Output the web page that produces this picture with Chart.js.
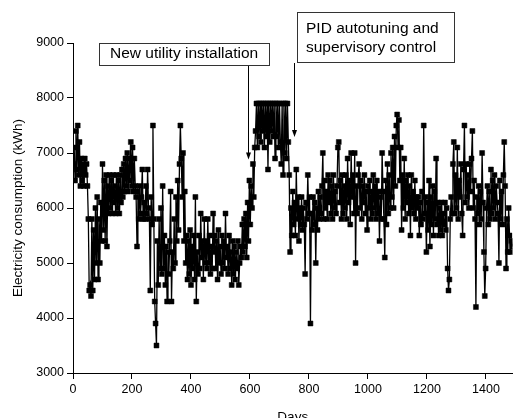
<!DOCTYPE html>
<html>
<head>
<meta charset="utf-8">
<script src="https://cdn.jsdelivr.net/npm/chart.js@4/dist/chart.umd.min.js"></script>
<style>
  html, body { margin: 0; padding: 0; background: #fff; }
  #wrap { width: 517px; height: 418px; }
</style>
</head>
<body>
<div id="wrap"><canvas id="usageChart" width="517" height="418"></canvas></div>
<script>
// electricity use, one value every 3 days (10 values = 30 days per row)
const startDay = 1;
const dayStep = 3;
const consumption = [
    6800, 7100, 6500, 7400, 6700, 7500, 6600, 7200, 6400, 6900,
    6500, 6800, 6400, 6900, 6600, 6800, 6400, 5800, 4500, 4600,
    4400, 5800, 4500, 5600, 4700, 6000, 5000, 6200, 4700, 5800,
    5000, 6100, 5400, 6800, 5600, 6500, 5400, 6600, 5300, 6400,
    5900, 6600, 6000, 6500, 5900, 6600, 6100, 6400, 5900, 6600,
    6000, 6500, 5900, 6600, 6100, 6700, 6200, 6800, 6300, 6900,
    6400, 7000, 6300, 6900, 6500, 7200, 6400, 7100, 6300, 6900,
    6400, 6200, 5300, 6300, 5800, 6400, 5900, 6200, 6700, 5800,
    6100, 5800, 6400, 5900, 6700, 6000, 5800, 4500, 6200, 5700,
    7500, 5800, 4300, 3900, 3500, 5400, 4600, 5800, 4900, 6000,
    4800, 6400, 4900, 5500, 4600, 5300, 4300, 5200, 4800, 5400,
    6300, 4300, 5200, 4900, 5800, 5000, 6200, 5400, 6500, 5600,
    6800, 7500, 6900, 6200, 7000, 5400, 6300, 5000, 5500, 4700,
    5400, 4800, 5600, 4600, 5300, 4900, 5500, 4700, 6200, 4300,
    5200, 4800, 5500, 4900, 5900, 5100, 5400, 4700, 5800, 5000,
    5400, 4900, 5800, 5000, 5500, 4800, 5300, 4900, 5900, 5200,
    5500, 4900, 5400, 4700, 5600, 5000, 5300, 4800, 5500, 5000,
    5400, 4900, 5900, 5100, 5300, 4800, 5500, 4900, 5200, 4600,
    5400, 4800, 5300, 4700, 5200, 4900, 5400, 4600, 5000, 5300,
    5100, 5700, 5200, 5800, 5300, 5900, 5100, 6100, 5400, 6500,
    5700, 6400, 6000, 6800, 6200, 7100, 7400, 7900, 7100, 7900,
    7300, 7900, 7200, 7900, 7400, 7900, 7100, 7900, 7300, 7900,
    6700, 7900, 7200, 7900, 7400, 7900, 7300, 7900, 6900, 7900,
    7300, 7900, 7100, 7900, 7200, 6800, 7900, 6600, 7900, 7000,
    7900, 6900, 7900, 7200, 6600, 5200, 6000, 5500, 6300, 5700,
    6100, 5500, 6700, 5800, 6200, 5400, 6000, 5700, 6200, 5600,
    6000, 5700, 4800, 6100, 5800, 6600, 5900, 6200, 3900, 5900,
    5600, 6200, 5700, 6100, 5000, 6000, 5600, 6300, 5800, 6200,
    5900, 6400, 7000, 5800, 6500, 6000, 6300, 5800, 6600, 6100,
    6500, 5900, 6400, 5800, 6600, 6000, 6300, 5900, 6400, 7100,
    7200, 6100, 6500, 5800, 6600, 5900, 6400, 6000, 6600, 5800,
    6900, 6100, 6500, 5700, 7000, 6200, 6600, 5900, 7000, 5000,
    6400, 5900, 6600, 6800, 6000, 6500, 5800, 6400, 6100, 6600,
    5900, 6300, 5600, 6400, 6000, 6500, 5800, 6300, 5900, 6600,
    6000, 6400, 5800, 6500, 5900, 6300, 5400, 6200, 5800, 7000,
    6300, 5800, 5100, 6500, 5700, 6800, 5900, 6600, 6000, 7000,
    6200, 7100, 6000, 7300, 6400, 7500, 7700, 7100, 7600, 6500,
    7100, 5600, 6600, 6000, 6900, 5800, 6500, 6100, 6600, 5900,
    6400, 5500, 6600, 6000, 6300, 5900, 6500, 5800, 6200, 6000,
    6200, 5500, 6100, 5700, 6300, 5800, 7500, 5900, 6200, 5200,
    6100, 5600, 6500, 5300, 6200, 5700, 6400, 5500, 6300, 5800,
    6900, 5700, 6100, 5500, 6000, 5600, 6100, 5500, 5900, 5700,
    6100, 5600, 6000, 4900, 4500, 4700, 5800, 6200, 5900, 6800,
    7200, 5900, 6600, 6000, 7100, 5800, 6500, 6200, 6800, 5900,
    5500, 6700, 7500, 6100, 6800, 6200, 6600, 6000, 6800, 6300,
    6900, 7400, 6000, 6500, 5800, 4200, 6200, 5900, 6400, 5700,
    6300, 5800, 7000, 6100, 5200, 4400, 4900, 6000, 6400, 5700,
    6300, 5800, 6700, 5900, 6500, 6000, 6600, 5800, 6400, 6100,
    5900, 5000, 6500, 5800, 6300, 5700, 6600, 7200, 6400, 4900,
    5800, 5200, 6000, 5500, 5200, 5400, 5300
];
const days = consumption.map((v, i) => startDay + i * dayStep);

const xTicks = [0, 200, 400, 600, 800, 1000, 1200, 1400];
const yTicks = [3000, 4000, 5000, 6000, 7000, 8000, 9000];

// event markers: [day, value at arrow tip]
const utilityEvent = [592, 6880];
const pidEvent = [750, 7290];

const fontFamily = '"Liberation Sans", Arial, sans-serif';

const calloutPlugin = {
    id: 'callouts',
    afterDraw(chart) {
        const ctx = chart.ctx;
        const xs = chart.scales.x;
        const ys = chart.scales.y;
        ctx.save();
        ctx.font = '15.5px ' + fontFamily;
        ctx.fillStyle = '#000';
        ctx.textBaseline = 'alphabetic';
        ctx.textAlign = 'left';

        // box 1
        ctx.strokeStyle = '#333';
        ctx.lineWidth = 1;
        ctx.strokeRect(99.5, 43.5, 170, 22);
        ctx.fillText('New utility installation', 110, 57.5);

        // box 2
        ctx.strokeRect(297.5, 12.5, 157, 50);
        ctx.fillText('PID autotuning and', 306, 33);
        ctx.fillText('supervisory control', 306, 52);

        const arrow = (ev, fromY) => {
            const x = Math.round(xs.getPixelForValue(ev[0])) + 0.5;
            const tip = ys.getPixelForValue(ev[1]);
            ctx.strokeStyle = '#000';
            ctx.beginPath();
            ctx.moveTo(x, fromY);
            ctx.lineTo(x, tip - 5);
            ctx.stroke();
            ctx.beginPath();
            ctx.moveTo(x, tip);
            ctx.lineTo(x - 2.5, tip - 7);
            ctx.lineTo(x + 2.5, tip - 7);
            ctx.closePath();
            ctx.fill();
        };
        arrow(utilityEvent, 66);
        arrow(pidEvent, 63);
        ctx.restore();
    }
};

const ctx = document.getElementById('usageChart').getContext('2d');

const usageChart = new Chart(ctx, {
    type: 'line',
    data: {
        datasets: [{
            label: 'Electricity consumption',
            data: days.map((d, i) => ({ x: d, y: consumption[i] })),
            borderColor: '#000',
            borderWidth: 1.3,
            backgroundColor: '#000',
            pointStyle: 'rect',
            pointRadius: 3.5,
            pointBorderWidth: 0.5,
            pointBackgroundColor: '#000',
            pointBorderColor: '#000',
            tension: 0,
            fill: false
        }]
    },
    options: {
        responsive: false,
        animation: false,
        layout: { padding: { top: 43, right: 0, left: 0, bottom: 0 } },
        plugins: {
            legend: { display: false },
            tooltip: { enabled: false }
        },
        scales: {
            x: {
                type: 'linear',
                min: 0,
                max: 1490,
                afterBuildTicks: (scale) => { scale.ticks = xTicks.map(v => ({ value: v })); },
                afterFit: (scale) => { scale.height = 45; },
                ticks: {
                    color: '#000',
                    padding: 3,
                    maxRotation: 0,
                    font: { family: fontFamily, size: 12.5 },
                    callback: (v) => String(v)
                },
                grid: { drawOnChartArea: false, drawTicks: true, tickLength: 6, color: '#000' },
                border: { display: true, color: '#000', width: 1 },
                title: {
                    display: true,
                    text: 'Days',
                    color: '#000',
                    font: { family: fontFamily, size: 13.5 },
                    padding: { top: 0, bottom: -7 }
                }
            },
            y: {
                min: 3000,
                max: 9000,
                afterBuildTicks: (scale) => { scale.ticks = yTicks.map(v => ({ value: v })); },
                afterFit: (scale) => { scale.width = 73; },
                ticks: {
                    color: '#000',
                    padding: 3,
                    font: { family: fontFamily, size: 12.5 },
                    callback: (v) => String(v)
                },
                grid: { drawOnChartArea: false, drawTicks: true, tickLength: 6, color: '#000' },
                border: { display: true, color: '#000', width: 1 },
                title: {
                    display: true,
                    text: 'Electricity consumption (kWh)',
                    color: '#000',
                    font: { family: fontFamily, size: 13.5 },
                    padding: { top: 10, bottom: 0 }
                }
            }
        }
    },
    plugins: [calloutPlugin]
});
</script>
</body>
</html>
